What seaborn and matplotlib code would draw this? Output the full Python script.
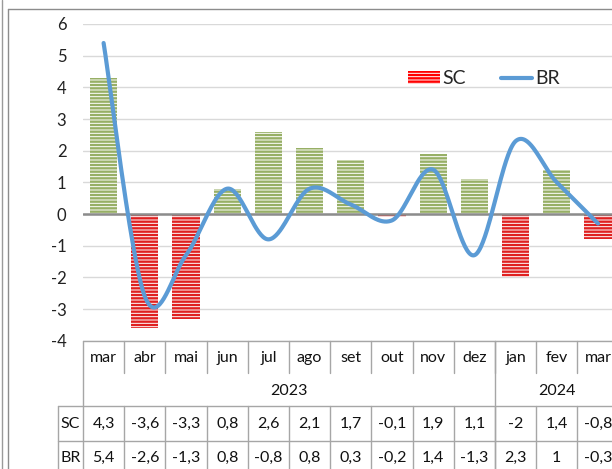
import matplotlib
matplotlib.use("Agg")
import matplotlib.pyplot as plt
import matplotlib.transforms as mtransforms
from matplotlib.lines import Line2D
from matplotlib.patches import Patch
import numpy as np
import pandas as pd
import seaborn as sns

# dados
months = ["mar", "abr", "mai", "jun", "jul", "ago", "set", "out", "nov", "dez", "jan", "fev", "mar"]
years = ["2023", "2024"]
year_span = [10, 3]
sc = [4.3, -3.6, -3.3, 0.8, 2.6, 2.1, 1.7, -0.1, 1.9, 1.1, -2, 1.4, -0.8]
br = [5.4, -2.6, -1.3, 0.8, -0.8, 0.8, 0.3, -0.2, 1.4, -1.3, 2.3, 1, -0.3]
sc_txt = ["4,3", "-3,6", "-3,3", "0,8", "2,6", "2,1", "1,7", "-0,1", "1,9", "1,1", "-2", "1,4", "-0,8"]
br_txt = ["5,4", "-2,6", "-1,3", "0,8", "-0,8", "0,8", "0,3", "-0,2", "1,4", "-1,3", "2,3", "1", "-0,3"]

GREEN = "#9BBB59"
RED = "#FF0000"
BLUE = "#5B9BD5"
GRID = "#D9D9D9"
BORDER = "#A6A6A6"

sns.set_style("white")
plt.rcParams["font.family"] = ["Lato", "DejaVu Sans"]
plt.rcParams["hatch.linewidth"] = 1.7
plt.rcParams["axes.unicode_minus"] = False

W, H = 612, 469
L, R, T, B = 83, 618.6, 24, 340.7
COL = (R - L) / 13

fig = plt.figure(figsize=(W / 100, H / 100), dpi=100)
ax = fig.add_axes([L / W, (H - B) / H, (R - L) / W, (B - T) / H])

df = pd.DataFrame({"pos": range(len(sc)), "SC": sc})
df["sinal"] = np.where(df["SC"] >= 0, "pos", "neg")
sns.barplot(data=df, x="pos", y="SC", hue="sinal", palette={"pos": GREEN, "neg": RED},
            dodge=False, width=0.66, legend=False, ax=ax, zorder=2)
for p in ax.patches:
    c = p.get_facecolor()
    p.set_facecolor("white")
    p.set_edgecolor(c)
    p.set_hatch("-----")
    p.set_linewidth(0)


# suavização tipo Excel (Bezier / Catmull-Rom)
def smooth(y, n=40):
    pts = np.column_stack([np.arange(len(y)), np.asarray(y, float)])
    ext = np.vstack([pts[0], pts, pts[-1]])
    out = []
    for i in range(len(y) - 1):
        p0, p1, p2, p3 = ext[i], ext[i + 1], ext[i + 2], ext[i + 3]
        c1 = p1 + (p2 - p0) / 6
        c2 = p2 - (p3 - p1) / 6
        t = np.linspace(0, 1, n)[:, None]
        seg = (1 - t) ** 3 * p1 + 3 * (1 - t) ** 2 * t * c1 + 3 * (1 - t) * t ** 2 * c2 + t ** 3 * p2
        out.append(seg if i == 0 else seg[1:])
    return np.vstack(out)


curve = smooth(br)
sns.lineplot(x=curve[:, 0], y=curve[:, 1], sort=False, estimator=None, color=BLUE,
             lw=3, ax=ax, zorder=4, solid_capstyle="round")

ax.axhline(0, color="#8C8C8C", lw=1.8, zorder=3)
ax.set_xlim(-0.5, 12.5)
ax.set_ylim(-4, 6)
ax.set_yticks(range(-4, 7))
ax.yaxis.grid(True, color=GRID, lw=1)
ax.set_axisbelow(True)
ax.set_xticks([])
ax.set_xlabel("")
ax.set_ylabel("")
ax.tick_params(axis="y", length=0, pad=12, labelsize=12, labelcolor="#222222")
for s in ax.spines.values():
    s.set_visible(False)

leg_handles = [Patch(facecolor="white", edgecolor=RED, hatch="-----", lw=0),
               Line2D([], [], color=BLUE, lw=3)]
fig.legend(leg_handles, ["SC", "BR"], loc="center", bbox_to_anchor=(484 / W, (H - 79) / H),
           ncol=2, frameon=False, fontsize=14, handlelength=1.6, handletextpad=0.15,
           columnspacing=1.8)

# tabela de dados
tr = mtransforms.blended_transform_factory(ax.transData, ax.transAxes)


def ay(py):
    return (B - py) / (B - T)


def dx(px):
    return -0.5 + (px - L) / COL


def hline(x0, x1, py):
    ax.plot([x0, x1], [ay(py), ay(py)], color=BORDER, lw=1, transform=tr, clip_on=False)


def vline(x, py0, py1):
    ax.plot([x, x], [ay(py0), ay(py1)], color=BORDER, lw=1, transform=tr, clip_on=False)


y_top, y_month, y_yr, y_sc, y_br, y_end = B, 373, 406, 441, 476, 480
hline(-0.5, 12.6, y_top)
hline(dx(58), 12.6, y_yr)
hline(dx(58), 12.6, y_sc)
vline(-0.5, y_top, y_end)
vline(dx(58), y_yr, y_end)
for k in range(1, 13):
    vline(k - 0.5, y_top, y_month)
    vline(k - 0.5, y_yr, y_end)
vline(year_span[0] - 0.5, y_top, y_end)

txt = dict(transform=tr, ha="center", va="center", fontsize=11.5, color="#111111", clip_on=False)
for i, m in enumerate(months):
    ax.text(i, ay(358), m, **txt)
    ax.text(i, ay(424), sc_txt[i], **txt)
    ax.text(i, ay(458), br_txt[i], **txt)
start = 0
for yr, n in zip(years, year_span):
    ax.text(start + (n - 1) / 2, ay(391), yr, **txt)
    start += n
ax.text(dx(70.5), ay(424), "SC", **txt)
ax.text(dx(70.5), ay(458), "BR", **txt)

# moldura do gráfico
fig.add_artist(Line2D([1.5 / W, 1.5 / W], [0, 1], color="#9A9A9A", lw=1))
fig.add_artist(Line2D([7.5 / W, 7.5 / W], [0, (H - 9.3) / H], color="#8C8C8C", lw=1))
fig.add_artist(Line2D([7.5 / W, 1], [(H - 9.3) / H, (H - 9.3) / H], color="#8C8C8C", lw=1))

fig.savefig("out.png", dpi=100)
